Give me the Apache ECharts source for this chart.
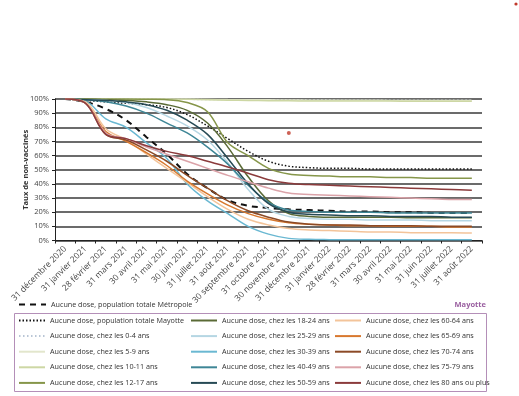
<!DOCTYPE html>
<html lang="fr">
<head>
    <meta charset="UTF-8">
    <title>Taux de non-vaccinés - Mayotte</title>
    <script src="https://cdn.jsdelivr.net/npm/echarts@6/dist/echarts.min.js"></script>
    <style>
        html, body { margin: 0; padding: 0; background: #fff; }
        #chart { width: 519px; height: 396px; }
    </style>
</head>
<body>
<div id="chart"></div>
<script>
    // mois (fin de mois)
    var months = ['31 décembre 2020', '31 janvier 2021', '28 février 2021', '31 mars 2021', '30 avril 2021',
        '31 mai 2021', '30 juin 2021', '31 juillet 2021', '31 août 2021', '30 septembre 2021',
        '31 octobre 2021', '30 novembre 2021', '31 décembre 2021', '31 janvier 2022', '28 février 2022',
        '31 mars 2022', '30 avril 2022', '31 mai 2022', '31 juin 2022', '31 juillet 2022', '31 août 2022'];

    // taux de non-vaccinés (%)
    var metropole = [100, 98, 93, 85, 73, 61, 47, 37, 28.5, 24.5, 23, 22, 21.5, 21, 20.5, 20.5, 20, 20, 19.5, 19.5, 19.5];
    var mayotteTotal = [100, 99, 98, 97, 96, 94, 89, 81, 72, 63, 56, 52.5, 51.5, 51, 51, 50.5, 50.5, 50.5, 50.5, 50.5, 50.5];
    var age0_4 = [100, 100, 100, 100, 100, 99.8, 99.7, 99.6, 99.5, 99.4, 99.4, 99.3, 99.3, 99.3, 99.2, 99.2, 99.2, 99.2, 99.2, 99.2, 99.2];
    var age5_9 = [100, 100, 100, 100, 100, 100, 100, 99.8, 99.6, 99.5, 99.4, 99.3, 99.2, 99.2, 99.1, 99.1, 99, 99, 99, 99, 99];
    var age10_11 = [100, 100, 100, 100, 100, 100, 99.8, 99.5, 99.2, 99, 98.8, 98.7, 98.6, 98.6, 98.5, 98.5, 98.5, 98.4, 98.4, 98.4, 98.4];
    var age12_17 = [100, 100, 100, 100, 99.8, 99.5, 97.5, 91, 69, 60, 51, 47, 46, 45.5, 45, 45, 44.5, 44.5, 44, 44, 44];
    var age18_24 = [100, 100, 99.5, 99, 98, 96, 92, 83, 66, 45, 28, 19, 17, 16.5, 16.5, 16.5, 16.5, 16, 16, 16, 16];
    var age25_29 = [100, 99.5, 99, 97.5, 94, 88, 81, 71, 55, 36, 22, 17, 15.5, 15, 15, 14.5, 14.5, 14.5, 14, 14, 14];
    var age30_39 = [100, 98.5, 86, 80, 69, 58, 40, 28, 19, 10, 4.5, 1.5, 0.8, 0.6, 0.5, 0.5, 0.5, 0.5, 0.5, 0.5, 0.5];
    var age40_49 = [100, 99.5, 98, 95, 90, 83, 76, 66, 54, 39, 27, 21.5, 20.5, 20, 20, 20, 19.5, 19.5, 19.5, 19.5, 19.5];
    var age50_59 = [100, 99.5, 99, 98, 96, 92, 85, 75, 58, 40, 26, 20, 18.5, 18, 17.5, 17.5, 17, 17, 17, 16.5, 16.5];
    var age60_64 = [100, 98, 79, 71, 61, 51, 41, 31, 22, 15, 11, 8.5, 7.5, 7, 6.5, 6, 6, 5.5, 5.5, 5.5, 5.3];
    var age65_69 = [100, 97, 77, 70, 62, 53, 42, 33, 25, 19, 15, 12.5, 11.5, 11, 10.5, 10.5, 10, 10, 10, 9.5, 9.5];
    var age70_74 = [100, 97, 75, 71, 64, 56, 46, 37, 28, 21, 16.5, 13, 11.5, 11, 11, 10.5, 10.5, 10.5, 10, 10, 10];
    var age75_79 = [100, 97, 76, 72, 66, 61, 56, 51, 46, 41.5, 37, 33.5, 32.5, 32, 31.5, 31, 30.5, 30, 29.5, 29, 29];
    var age80plus = [100, 97, 75, 72, 67, 63, 60, 56, 52, 47.5, 43, 40.5, 39.5, 39, 38.5, 38, 37.5, 37, 36.5, 36, 35.5];

    // point rouge isolé dans le graphique
    var redDot = [[11, 76]];

    var fontFamily = '"Open Sans", "Noto Sans", sans-serif';

    function ligne(name, data, color, width, type) {
        return {
            name: name,
            type: 'line',
            data: data,
            smooth: 0.35,
            symbol: 'none',
            lineStyle: { color: color, width: width, type: type || 'solid' },
            itemStyle: { color: color },
            emphasis: { disabled: true },
            z: 3
        };
    }

    var series = [
        ligne('Aucune dose, population totale Métropole', metropole, '#111', 2, [6, 5]),
        ligne('Aucune dose, population totale Mayotte', mayotteTotal, '#111', 1.5, [1.5, 2]),
        ligne('Aucune dose, chez les 0-4 ans', age0_4, '#b9c6d6', 1.3, [1.5, 2.5]),
        ligne('Aucune dose, chez les 5-9 ans', age5_9, '#e2e6cc', 1.5),
        ligne('Aucune dose, chez les 10-11 ans', age10_11, '#cdd7a4', 1.5),
        ligne('Aucune dose, chez les 12-17 ans', age12_17, '#86964a', 1.5),
        ligne('Aucune dose, chez les 18-24 ans', age18_24, '#5a6a36', 1.5),
        ligne('Aucune dose, chez les 25-29 ans', age25_29, '#b5d6e3', 1.5),
        ligne('Aucune dose, chez les 30-39 ans', age30_39, '#6ab8d2', 1.5),
        ligne('Aucune dose, chez les 40-49 ans', age40_49, '#3e8696', 1.5),
        ligne('Aucune dose, chez les 50-59 ans', age50_59, '#264a55', 1.5),
        ligne('Aucune dose, chez les 60-64 ans', age60_64, '#f3c49a', 1.5),
        ligne('Aucune dose, chez les 65-69 ans', age65_69, '#d8782e', 1.5),
        ligne('Aucune dose, chez les 70-74 ans', age70_74, '#8c4a26', 1.5),
        ligne('Aucune dose, chez les 75-79 ans', age75_79, '#dba3a9', 1.5),
        ligne('Aucune dose, chez les 80 ans ou plus', age80plus, '#8b3b3c', 1.5),
        {
            name: 'point',
            type: 'scatter',
            data: redDot,
            symbolSize: 4,
            itemStyle: { color: '#c0392b' },
            z: 4
        }
    ];

    var legendText = { fontSize: 7.2, color: '#333', fontFamily: fontFamily };

    function colonne(left, names) {
        return {
            orient: 'vertical',
            left: left,
            top: 317,
            padding: 0,
            itemWidth: 26,
            itemHeight: 8,
            itemGap: 8.6,
            itemStyle: { opacity: 0 },
            selectedMode: false,
            textStyle: legendText,
            data: names
        };
    }

    var option = {
        animation: false,
        backgroundColor: '#fff',
        grid: { left: 55, right: 37, top: 99, bottom: 155.5 },
        xAxis: {
            type: 'category',
            data: months,
            boundaryGap: true,
            axisLine: { lineStyle: { color: '#222', width: 1 } },
            axisTick: { show: true, length: 3, lineStyle: { color: '#222' } },
            axisLabel: {
                rotate: 45,
                interval: 0,
                fontSize: 8.5,
                color: '#444',
                margin: 7,
                fontFamily: fontFamily
            }
        },
        yAxis: {
            type: 'value',
            min: 0,
            max: 100,
            interval: 10,
            name: 'Taux de non-vaccinés',
            nameLocation: 'middle',
            nameRotate: 90,
            nameGap: 25,
            nameMoveOverlap: false,
            nameTextStyle: { fontSize: 7.5, fontWeight: 'bold', color: '#333', fontFamily: fontFamily },
            axisLine: { show: true, lineStyle: { color: '#222', width: 1 } },
            axisTick: { show: true, length: 3, lineStyle: { color: '#222' } },
            axisLabel: {
                formatter: '{value}%',
                fontSize: 7.5,
                color: '#444',
                margin: 6,
                fontFamily: fontFamily
            },
            splitLine: { lineStyle: { color: '#3a3a3a', width: 1.5 } }
        },
        legend: [
            {
                left: 18,
                top: 301,
                padding: 0,
                itemWidth: 27,
                itemHeight: 8,
                itemStyle: { opacity: 0 },
                selectedMode: false,
                textStyle: legendText,
                data: ['Aucune dose, population totale Métropole']
            },
            colonne(18, ['Aucune dose, population totale Mayotte', 'Aucune dose, chez les 0-4 ans',
                'Aucune dose, chez les 5-9 ans', 'Aucune dose, chez les 10-11 ans', 'Aucune dose, chez les 12-17 ans']),
            colonne(190, ['Aucune dose, chez les 18-24 ans', 'Aucune dose, chez les 25-29 ans',
                'Aucune dose, chez les 30-39 ans', 'Aucune dose, chez les 40-49 ans', 'Aucune dose, chez les 50-59 ans']),
            colonne(334, ['Aucune dose, chez les 60-64 ans', 'Aucune dose, chez les 65-69 ans',
                'Aucune dose, chez les 70-74 ans', 'Aucune dose, chez les 75-79 ans', 'Aucune dose, chez les 80 ans ou plus'])
        ],
        graphic: [
            {
                type: 'rect',
                shape: { x: 14.5, y: 313.5, width: 472, height: 78 },
                style: { fill: 'none', stroke: '#b48fb8', lineWidth: 1 },
                z: 0
            },
            {
                type: 'text',
                right: 33,
                top: 301,
                style: { text: 'Mayotte', fill: '#9a5fa0', font: 'bold 7.5px ' + fontFamily }
            },
            {
                type: 'circle',
                shape: { cx: 516, cy: 4, r: 1.6 },
                style: { fill: '#c0392b' }
            }
        ],
        series: series
    };

    var chart = echarts.init(document.getElementById('chart'), null, { renderer: 'canvas' });
    chart.setOption(option);
</script>
</body>
</html>
